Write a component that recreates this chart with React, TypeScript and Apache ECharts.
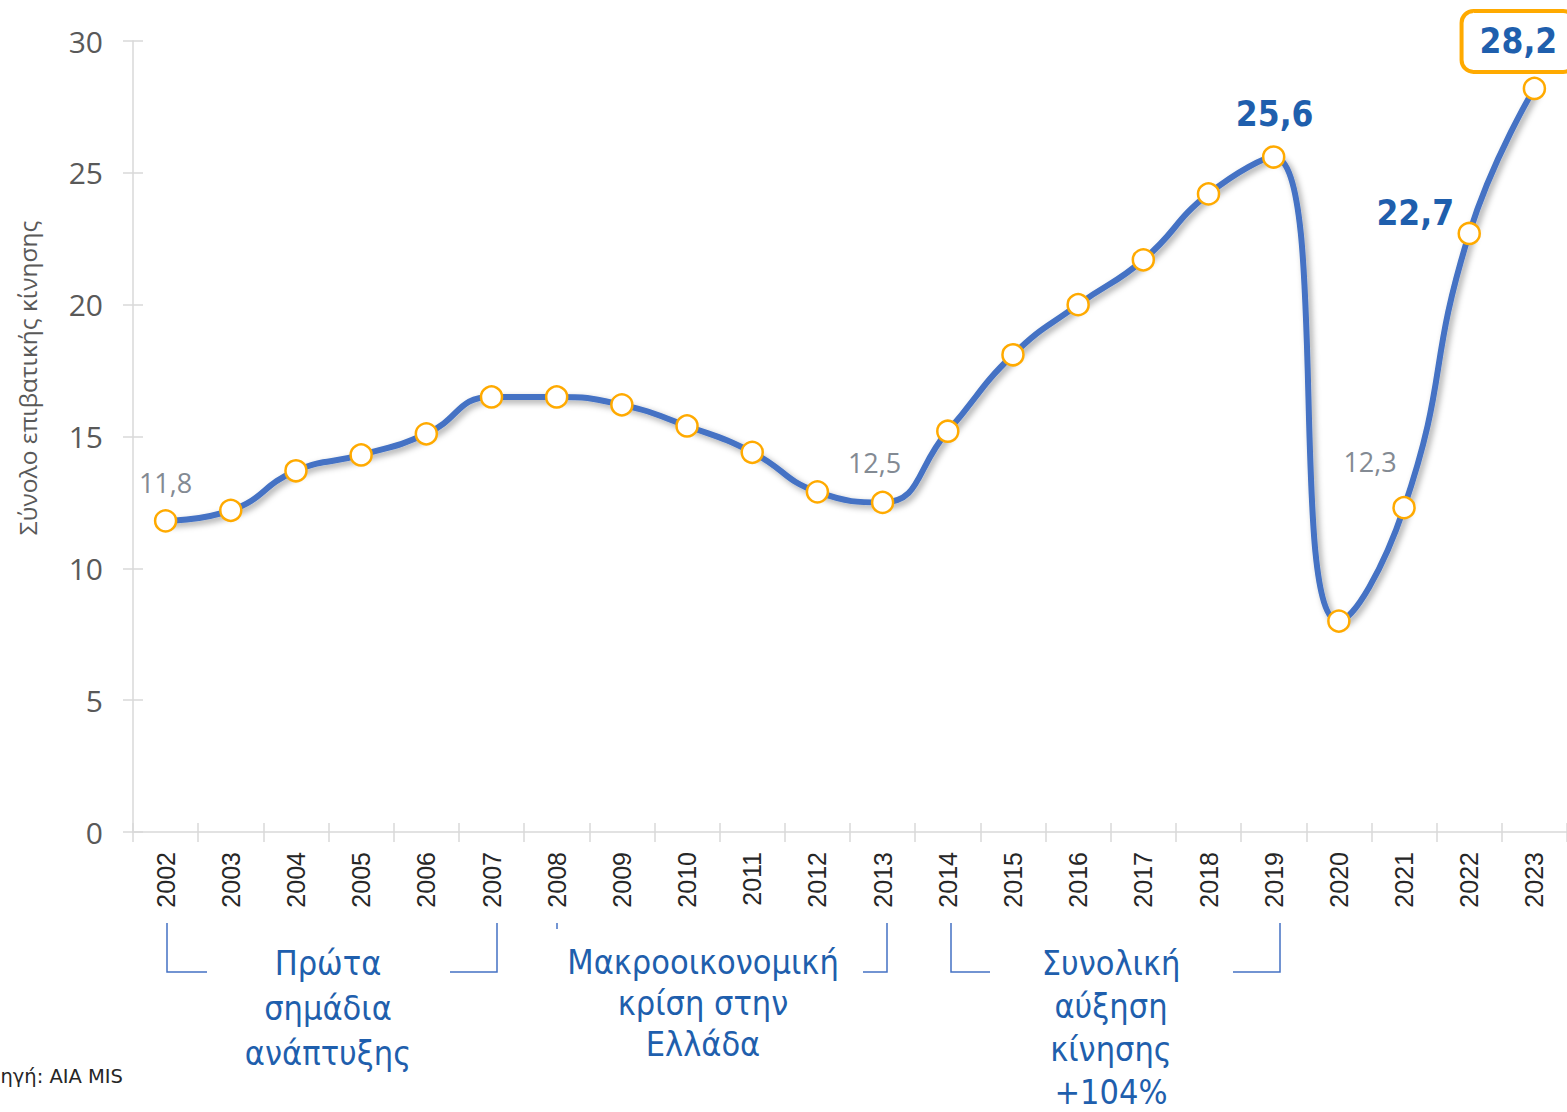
import React, { useEffect, useRef } from "react";
import * as echarts from "echarts";

const years = ["2002","2003","2004","2005","2006","2007","2008","2009","2010","2011","2012","2013","2014","2015","2016","2017","2018","2019","2020","2021","2022","2023"];
const passengers = [11.8, 12.2, 13.7, 14.3, 15.1, 16.5, 16.5, 16.2, 15.4, 14.4, 12.9, 12.5, 15.2, 18.1, 20.0, 21.7, 24.2, 25.6, 8.0, 12.3, 22.7, 28.2];
const yMin = 0;
const yMax = 30;
const yInterval = 5;
const yAxisTitle = "Σύνολο επιβατικής κίνησης";
const sourceText = "Πηγή: AIA MIS";
const periodTexts = ["Πρώτα\nσημάδια\nανάπτυξης", "Μακροοικονομική\nκρίση στην\nΕλλάδα", "Συνολική\nαύξηση\nκίνησης\n+104%"];
const grayLabelYears = ["2002", "2013", "2021"];
const boldLabelYears = ["2019", "2022", "2023"];

const BLUE = "#4472C4";
const TEXT_BLUE = "#1F5FAD";
const ORANGE = "#FFAA00";

const labelOffsets: Record<string, number[]> = {
  "2002": [0, -38],
  "2013": [-8, -40],
  "2021": [-34, -46],
  "2019": [1, -43],
  "2022": [-54, -20],
  "2023": [-16, -47],
};

const fmt = (v: number) => v.toFixed(1).replace(".", ",");

export default function App() {
  const ref = useRef<HTMLDivElement>(null);
  useEffect(() => {
    if (!ref.current) return;
    const chart = echarts.init(ref.current, undefined, { renderer: "svg" });
    const data = passengers.map((v, i) => {
      const y = years[i];
      const item: any = { value: v };
      if (grayLabelYears.includes(y)) {
        item.label = {
          show: true,
          position: ["50%", "50%"],
          align: "center",
          verticalAlign: "middle",
          offset: labelOffsets[y],
          formatter: fmt(v),
          color: "#838A93",
          fontSize: 27,
          fontFamily: "'Open Sans', 'Noto Sans', sans-serif",
        };
      } else if (boldLabelYears.includes(y)) {
        item.label = {
          show: true,
          position: ["50%", "50%"],
          align: "center",
          verticalAlign: "middle",
          offset: labelOffsets[y],
          formatter: fmt(v),
          color: TEXT_BLUE,
          fontSize: 35,
          fontWeight: "bold",
          fontFamily: "Tahoma, 'DejaVu Sans Condensed', 'DejaVu Sans', sans-serif",
        };
        if (y === "2023") {
          item.label.borderColor = ORANGE;
          item.label.borderWidth = 4;
          item.label.borderRadius = 12;
          item.label.padding = [16, 18, 10, 18];
        }
      }
      return item;
    });

    const bracket = (pts: number[][]) => ({
      type: "polyline",
      shape: { points: pts },
      style: { stroke: BLUE, lineWidth: 1.5, fill: null },
      silent: true,
    });
    const annFont = "Tahoma, 'DejaVu Sans Condensed', 'DejaVu Sans', sans-serif";

    chart.setOption({
      animation: false,
      grid: { left: 133, top: 41, bottom: 280, width: 1436, containLabel: false },
      xAxis: [
        {
          type: "category",
          data: years,
          boundaryGap: true,
          axisLine: { show: true, lineStyle: { color: "#D9D9D9", width: 1.5 } },
          axisTick: { show: true, interval: 0, length: 10, lineStyle: { color: "#D9D9D9", width: 1.5 } },
          axisLabel: {
            interval: 0,
            rotate: 90,
            margin: 20,
            color: "#262626",
            fontSize: 25,
            fontFamily: "'Liberation Sans', Arial, sans-serif",
          },
          splitLine: { show: false },
        },
        {
          type: "category",
          data: years,
          position: "bottom",
          boundaryGap: true,
          axisLine: { show: false },
          axisTick: { show: true, inside: true, interval: 0, length: 9, lineStyle: { color: "#D9D9D9", width: 1.5 } },
          axisLabel: { show: false },
          splitLine: { show: false },
        },
      ],
      yAxis: [
        {
          type: "value",
          min: yMin,
          max: yMax,
          interval: yInterval,
          axisLine: { show: true, lineStyle: { color: "#D9D9D9", width: 1.5 } },
          axisTick: { show: true, length: 10, lineStyle: { color: "#D9D9D9", width: 1.5 } },
          axisLabel: {
            margin: 30,
            color: "#595959",
            fontSize: 30,
            fontFamily: "'Open Sans', 'Noto Sans', sans-serif",
          },
          splitLine: { show: false },
        },
        {
          type: "value",
          min: yMin,
          max: yMax,
          interval: yInterval,
          position: "left",
          axisLine: { show: false },
          axisTick: { show: true, inside: true, length: 10, lineStyle: { color: "#D9D9D9", width: 1.5 } },
          axisLabel: { show: false },
          splitLine: { show: false },
        },
      ],
      series: [
        {
          type: "line",
          data,
          smooth: 0.5,
          symbol: "circle",
          symbolSize: 21,
          itemStyle: { color: "#FFFFFF", borderColor: ORANGE, borderWidth: 2.5 },
          lineStyle: {
            color: BLUE,
            width: 6,
            shadowColor: "rgba(0,0,0,0.35)",
            shadowBlur: 6,
            shadowOffsetX: 3,
            shadowOffsetY: 3,
          },
          label: { show: false },
          z: 3,
        },
      ],
      graphic: [
        {
          type: "text",
          x: 27,
          y: 378,
          rotation: Math.PI / 2,
          style: {
            text: yAxisTitle,
            fill: "#595959",
            fontSize: 24.5,
            fontFamily: "'Open Sans', 'Noto Sans', sans-serif",
            align: "center",
            verticalAlign: "middle",
          },
        },
        {
          type: "text",
          x: 123,
          y: 1076,
          style: {
            text: sourceText,
            fill: "#262626",
            fontSize: 19.5,
            fontFamily: "Tahoma, 'DejaVu Sans', sans-serif",
            align: "right",
            verticalAlign: "middle",
          },
        },
        {
          type: "text",
          x: 328,
          y: 1008,
          style: {
            text: periodTexts[0],
            fill: TEXT_BLUE,
            fontSize: 34,
            lineHeight: 45,
            fontFamily: annFont,
            align: "center",
            verticalAlign: "middle",
          },
        },
        {
          type: "text",
          x: 703,
          y: 1003,
          style: {
            text: periodTexts[1],
            fill: TEXT_BLUE,
            fontSize: 34,
            lineHeight: 41,
            fontFamily: annFont,
            align: "center",
            verticalAlign: "middle",
          },
        },
        {
          type: "text",
          x: 1111,
          y: 1027,
          style: {
            text: periodTexts[2],
            fill: TEXT_BLUE,
            fontSize: 34,
            lineHeight: 43,
            fontFamily: annFont,
            align: "center",
            verticalAlign: "middle",
          },
        },
        bracket([[167, 923], [167, 972], [207, 972]]),
        bracket([[450, 972], [497, 972], [497, 923]]),
        bracket([[557, 923], [557, 929]]),
        bracket([[863, 972], [887, 972], [887, 923]]),
        bracket([[951, 923], [951, 972], [990, 972]]),
        bracket([[1233, 972], [1280, 972], [1280, 923]]),
      ],
    });
    return () => chart.dispose();
  }, []);
  return (
    <div
      ref={ref}
      style={{ position: "absolute", left: 0, top: 0, width: 1567, height: 1112, background: "#fff" }}
    />
  );
}
